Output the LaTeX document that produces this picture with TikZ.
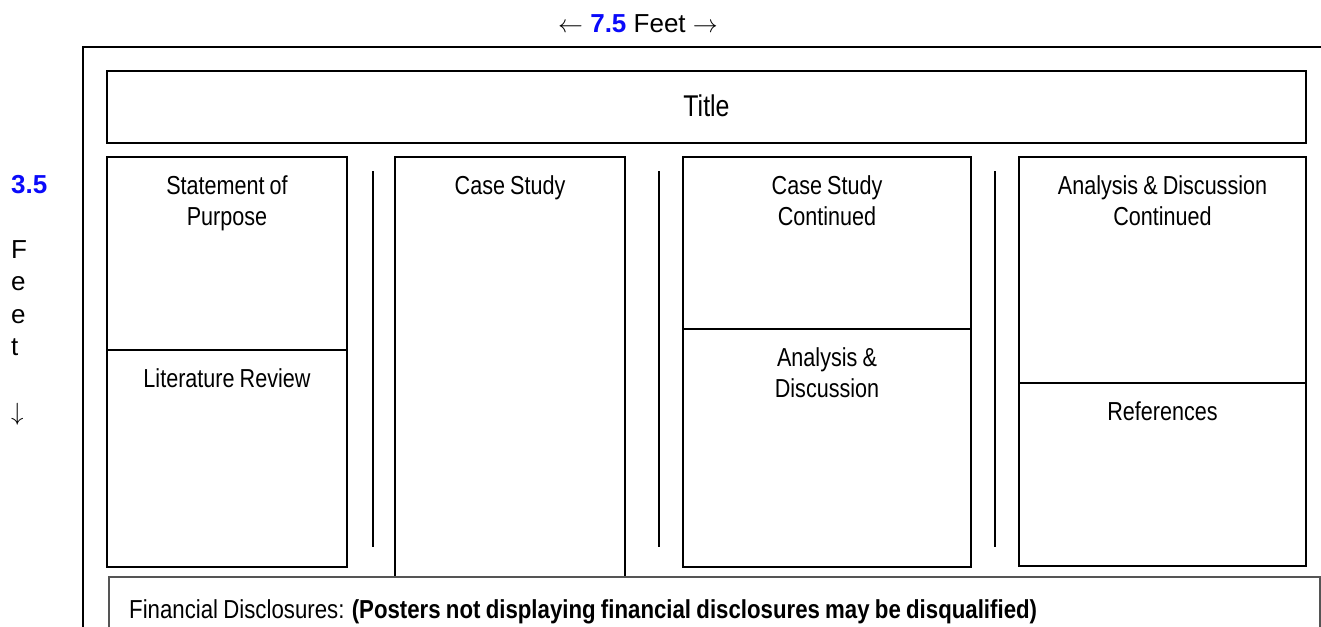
\documentclass[tikz,border=0pt]{standalone}
\usepackage{fontspec}
\setmainfont{Liberation Sans}
\newfontfamily\narrowfont[FakeStretch=0.83,WordSpace=0.85]{Liberation Sans}
\newfontfamily\finfont[FakeStretch=0.855,WordSpace=0.85]{Liberation Sans}
\definecolor{dimblue}{RGB}{10,10,250}
\definecolor{fingray}{RGB}{85,85,85}
\begin{document}
\begin{tikzpicture}[x=1pt,y=-1pt,
  frame/.style={draw=black,line width=2pt},
  panel/.style={draw=black,line width=2pt,rectangle,inner sep=0pt,outer sep=0pt,anchor=north west},
  finpanel/.style={draw=fingray,line width=1.5pt,rectangle,inner sep=0pt,outer sep=0pt,anchor=north west},
  split/.style={draw=black,line width=1.5pt},
  divider/.style={draw=black,line width=2pt},
  boxtext/.style={font=\narrowfont\fontsize{26}{31}\selectfont,inner sep=0pt,anchor=base,align=flush center},
  fintext/.style={font=\finfont\fontsize{26}{31}\selectfont,inner sep=0pt,anchor=base west},
  titletext/.style={font=\narrowfont\fontsize{30}{36}\selectfont,inner sep=0pt,anchor=base},
  label/.style={font=\fontsize{26}{32.5}\selectfont,inner sep=0pt}
]
\useasboundingbox (0,0) rectangle (1321,626);
\fill[white] (0,0) rectangle (1321,626);

% outer frame (top and left edges only visible)
\draw[frame] (1340,47) -- (83,47) -- (83,650);

% title
\node[panel,minimum width=1199pt,minimum height=72pt] (titlebox) at (107,71) {};
\node[titletext] (title) at (706.5,116) {Title};

% columns
\node[panel,minimum width=240pt,minimum height=410pt] (c1) at (107,157) {};
\node[panel,minimum width=230pt,minimum height=420pt] (c2) at (395,157) {};
\node[panel,minimum width=288pt,minimum height=410pt] (c3) at (683,157) {};
\node[panel,minimum width=287pt,minimum height=409pt] (c4) at (1019,157) {};

\draw[split] (107,350) -- (347,350);
\draw[split] (683,329) -- (971,329);
\draw[split] (1019,383) -- (1306,383);

\draw[divider] (373,171) -- (373,547);
\draw[divider] (659,171) -- (659,547);
\draw[divider] (995,171) -- (995,547);

% financial disclosures
\node[finpanel,minimum width=1211pt,minimum height=70pt] (finbox) at (109,577) {};
\node[fintext] (fin) at (129,618) {Financial Disclosures: \textbf{(Posters not displaying financial disclosures may be disqualified)}};

% panel texts
\node[boxtext,text width=230pt] (sop) at (227,194) {Statement of\\Purpose};
\node[boxtext] (lit) at (227,387) {Literature Review};
\node[boxtext] (cs) at (510,194) {Case Study};
\node[boxtext,text width=280pt] (csc) at (827,194) {Case Study\\Continued};
\node[boxtext,text width=280pt] (ad) at (827,366) {Analysis \&\\Discussion};
\node[boxtext,text width=280pt] (adc) at (1162.5,194) {Analysis \& Discussion\\Continued};
\node[boxtext] (ref) at (1162.5,420) {References};

% dimension labels
\node[label,anchor=base] (wlabel) at (638,33) {$\leftarrow$ \textcolor{dimblue}{\textbf{7.5}} Feet $\rightarrow$};
\node[label,anchor=base west,text width=60pt,align=left] (hlabel) at (11,193) {\textcolor{dimblue}{\textbf{3.5}}\\[32.5pt]F\\e\\e\\t\\[32.5pt]$\downarrow$};
\end{tikzpicture}
\end{document}
